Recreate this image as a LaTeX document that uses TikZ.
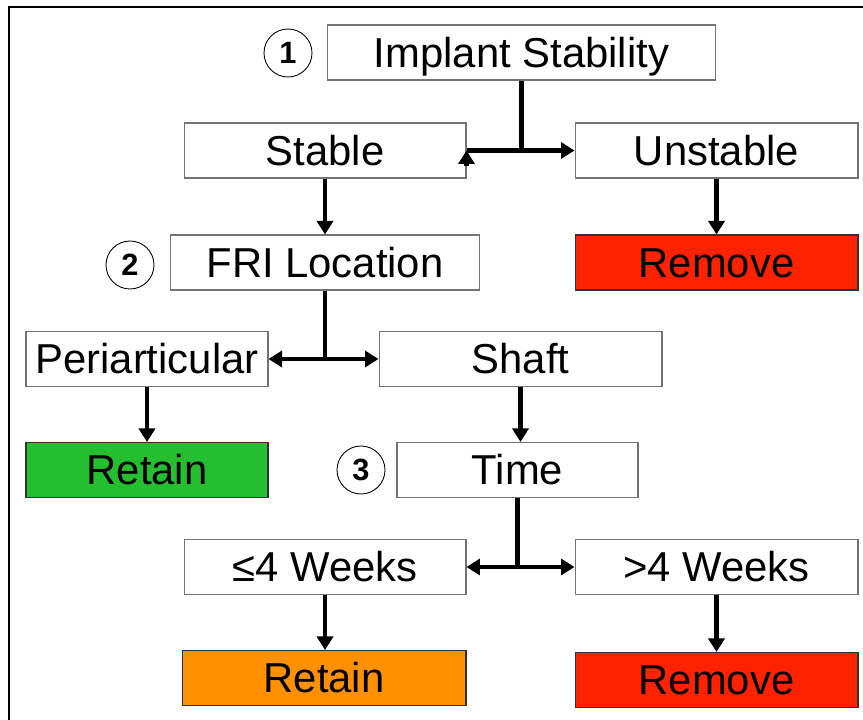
\documentclass[tikz,border=0pt]{standalone}
\usepackage{fontspec}
\setmainfont{Liberation Sans}
\usetikzlibrary{arrows.meta}

\definecolor{stopred}{RGB}{255,34,0}
\definecolor{keepgreen}{RGB}{36,190,48}
\definecolor{keeporange}{RGB}{255,145,0}

\begin{document}
\begin{tikzpicture}[x=0.02cm,y=-0.02cm,
  box/.style={draw=black!55, line width=0.6pt, minimum height=1.1cm, inner sep=0pt,
    text height=17pt, text depth=0pt, font=\fontsize{23.8}{28}\selectfont},
  num/.style={circle, draw, line width=0.5pt, minimum size=0.96cm, inner sep=0pt,
    text height=12.5pt, text depth=0pt, font=\fontsize{17.5}{19}\selectfont\bfseries},
  link/.style={line width=2.4pt},
  arr/.style={link, -{Triangle[length=0.27cm,width=0.32cm]}},
  both/.style={link, {Triangle[length=0.27cm,width=0.32cm]}-{Triangle[length=0.27cm,width=0.32cm]}}]
\useasboundingbox (0,0) rectangle (863,720);
% frame
\draw[line width=1.2pt] (9,720) -- (9,7) -- (863,7);

% step 1
\node[num] (n1) at (288,53) {1};
\node[box, minimum width=7.78cm] (impl) at (521.5,52.5) {Implant Stability};
\node[box, minimum width=5.64cm] (stab) at (325,150.5) {Stable};
\node[box, minimum width=5.66cm] (unst) at (716.5,150.5) {Unstable};
\node[box, minimum width=5.66cm, fill=stopred, draw=black!80] (rem1) at (716.5,262.5) {Remove};
\coordinate (j1) at (impl.south |- unst.west);
\coordinate (stabtip) at (stab.east |- j1);
\draw[link] (impl.south) -- (j1) -- (stabtip);
\draw[arr] (j1) -- (unst.west);
\draw[arr] ([yshift=-0.32cm]stabtip) -- (stabtip);
\draw[arr] (unst.south) -- (unst.south |- rem1.north);

% step 2
\node[num] (n2) at (130,265) {2};
\node[box, minimum width=6.2cm] (fri) at (325,262.5) {FRI Location};
\draw[arr] (stab.south) -- (stab.south |- fri.north);
\node[box, minimum width=4.84cm] (peri) at (147,359) {Periarticular};
\node[box, minimum width=5.66cm] (shaft) at (520.5,359) {Shaft};
\node[box, minimum width=4.84cm, fill=keepgreen, draw=black!80] (ret1) at (147,470) {Retain};
\coordinate (j2) at (fri.south |- peri.east);
\draw[link] (fri.south) -- (j2);
\draw[both] (peri.east) -- (shaft.west);
\draw[arr] (peri.south) -- (peri.south |- ret1.north);

% step 3
\node[num] (n3) at (361,470) {3};
\node[box, minimum width=4.82cm] (time) at (517.5,470) {Time};
\draw[arr] (shaft.south) -- (shaft.south |- time.north);
\node[box, minimum width=5.64cm] (early) at (325,567) {≤4 Weeks};
\node[box, minimum width=5.66cm] (late) at (716.5,567) {>4 Weeks};
\node[box, minimum width=5.68cm, fill=keeporange, draw=black!80] (ret2) at (324,678) {Retain};
\node[box, minimum width=5.66cm, fill=stopred, draw=black!80] (rem2) at (716.5,680) {Remove};
\coordinate (j3) at (time.south |- late.west);
\draw[link] (time.south) -- (j3);
\draw[both] (early.east) -- (late.west);
\draw[arr] (early.south) -- (early.south |- ret2.north);
\draw[arr] (late.south) -- (late.south |- rem2.north);
\end{tikzpicture}
\end{document}
